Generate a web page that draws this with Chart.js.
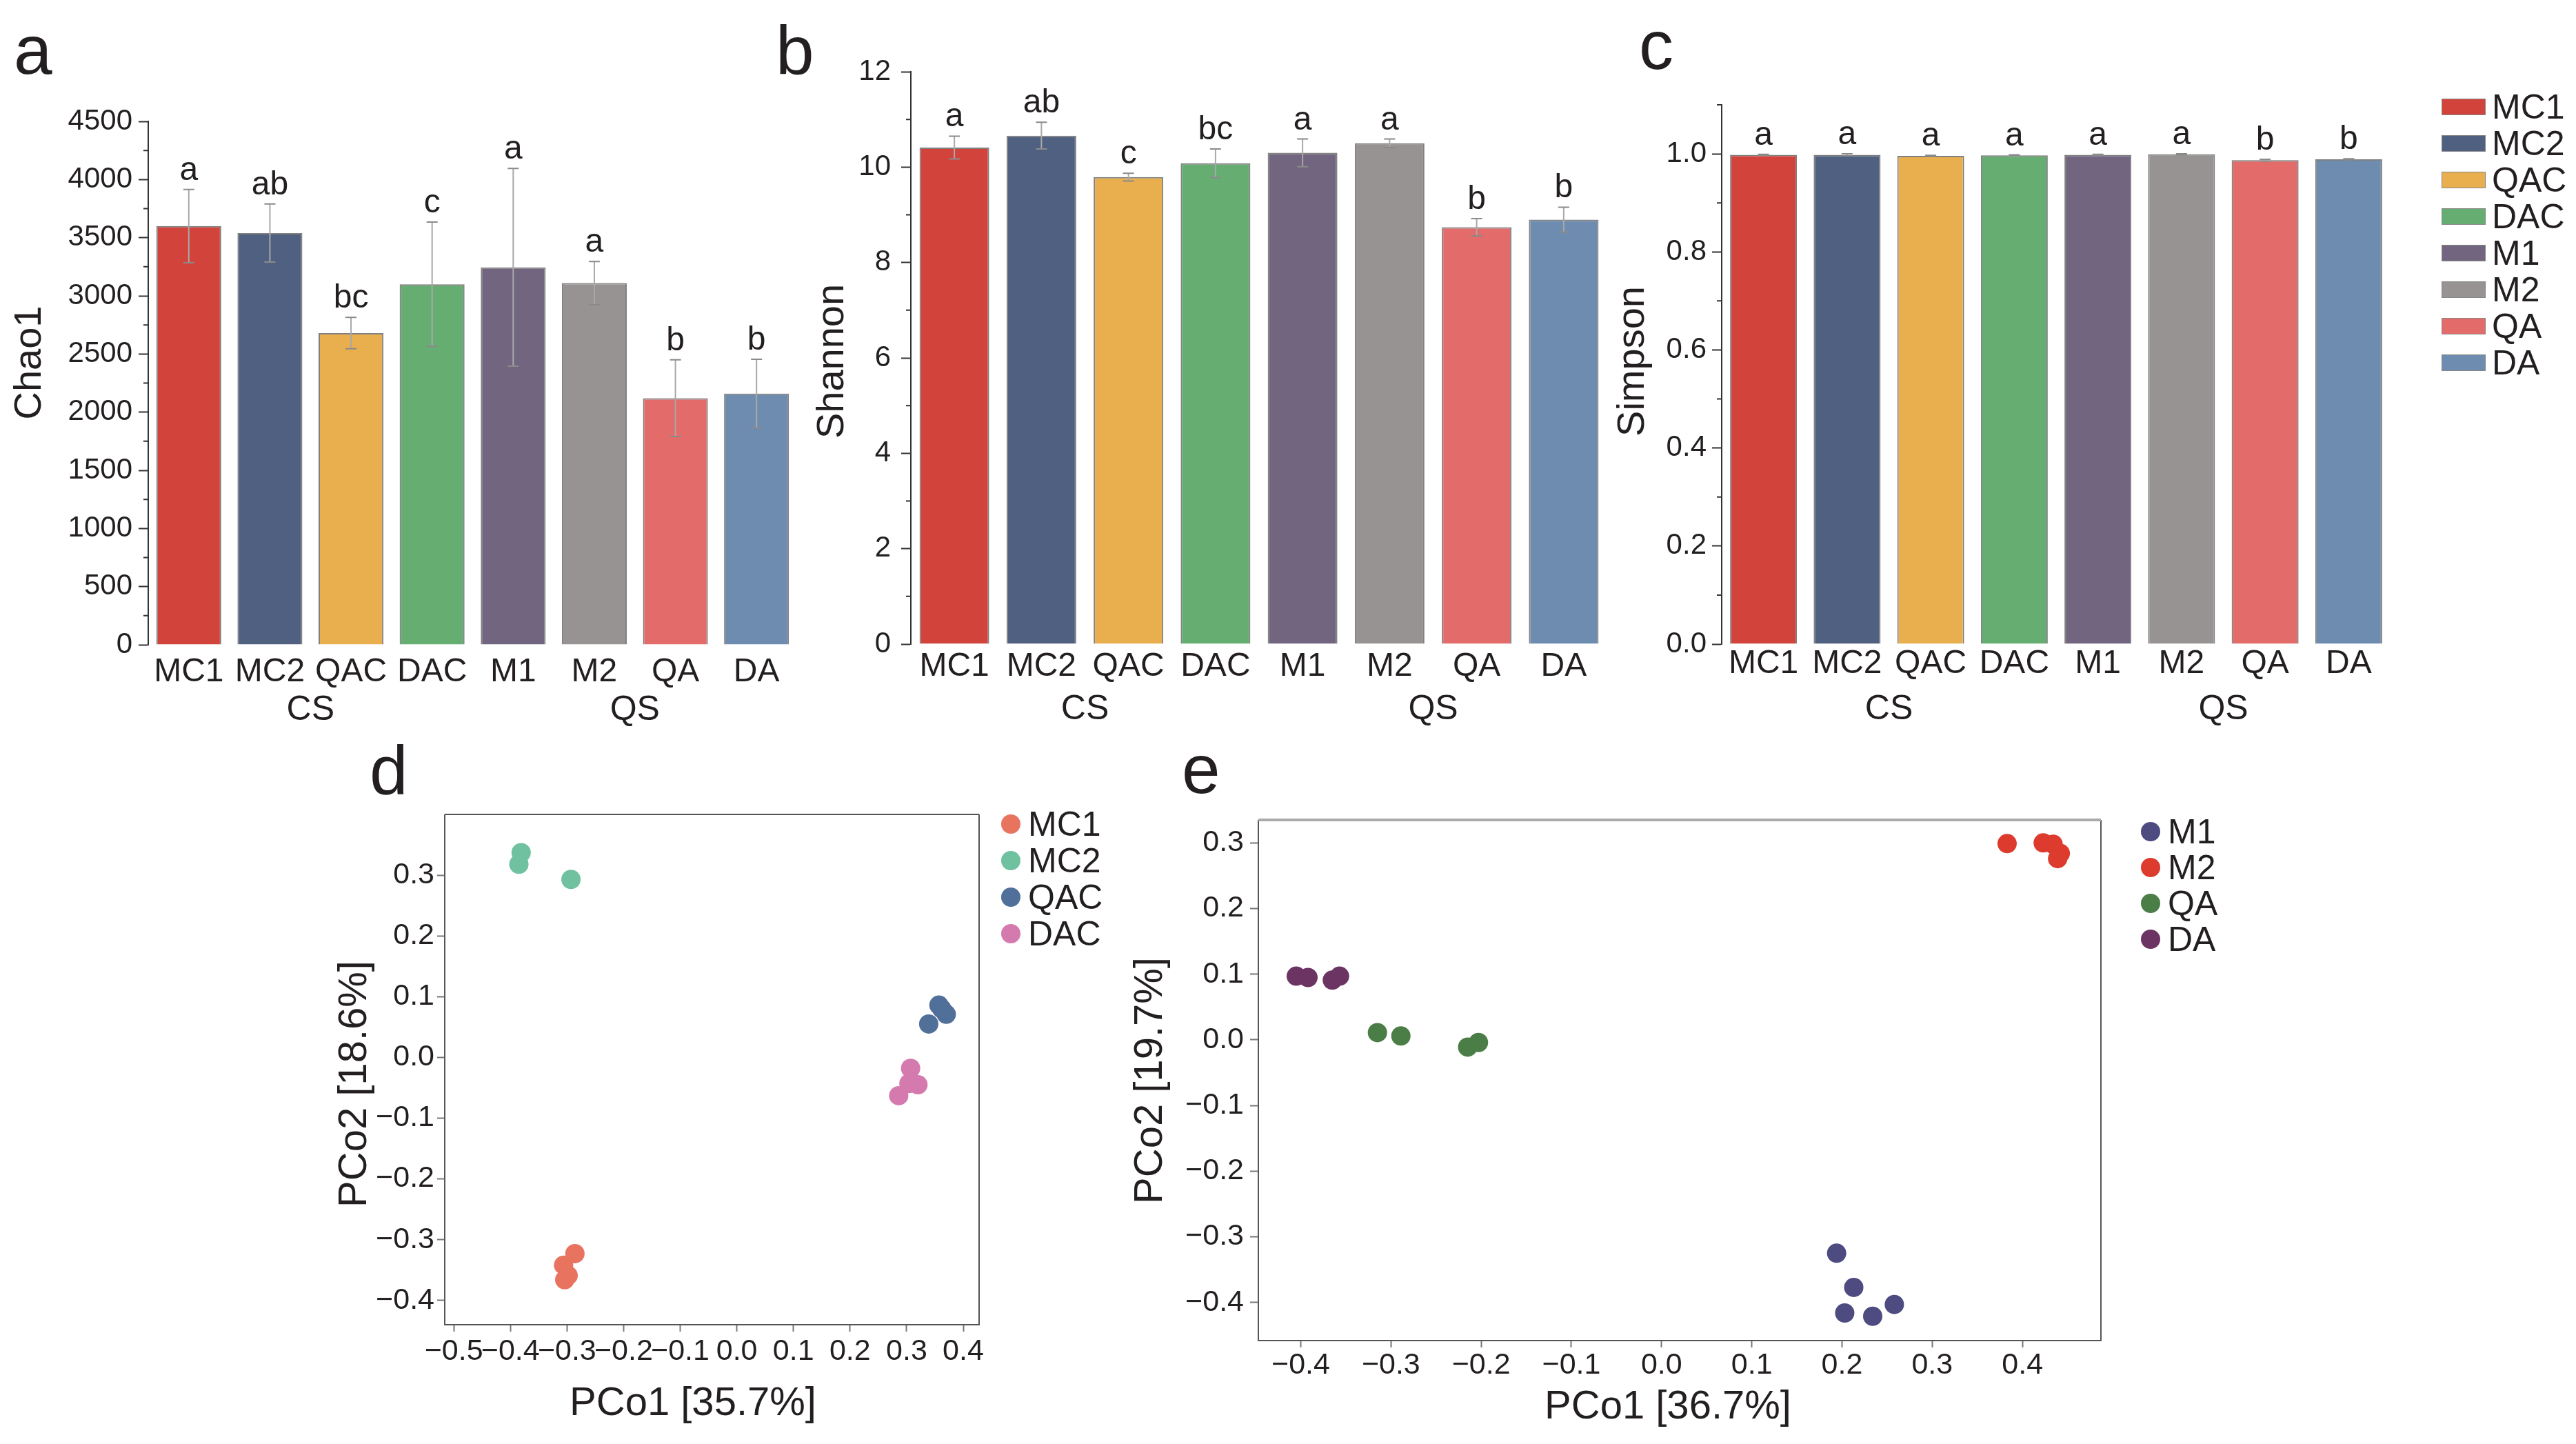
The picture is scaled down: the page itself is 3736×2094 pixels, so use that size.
<!DOCTYPE html>
<html>
<head>
<meta charset="utf-8">
<script src="https://cdn.jsdelivr.net/npm/chart.js@4.4.0/dist/chart.umd.min.js"></script>
<style>
html, body { margin: 0; padding: 0; background: #fff; }
#page { position: relative; width: 3736px; height: 2094px; overflow: hidden; background: #fff;
        font-family: "Liberation Sans", Arial, sans-serif; color: #231f20; }
canvas { position: absolute; }
.tag { position: absolute; font-size: 100px; line-height: 100px; }
.leg { position: absolute; display: flex; align-items: center; height: 50px; font-size: 50px; line-height: 50px; white-space: nowrap; }
</style>
</head>
<body>
<div id="page">
  <canvas id="chartA"></canvas>
  <canvas id="chartB"></canvas>
  <canvas id="chartC"></canvas>
  <canvas id="chartD"></canvas>
  <canvas id="chartE"></canvas>
  <div class="tag" style="left:20px;top:22px">a</div>
  <div class="tag" style="left:1125px;top:23px">b</div>
  <div class="tag" style="left:2377px;top:15px">c</div>
  <div class="tag" style="left:536px;top:1067px">d</div>
  <div class="tag" style="left:1714px;top:1065px">e</div>
</div>
<script>
const FONT = '"Liberation Sans", Arial, sans-serif';
const INK = '#231f20';

// ---- alpha diversity (a, b, c) ----
const groups = ['MC1', 'MC2', 'QAC', 'DAC', 'M1', 'M2', 'QA', 'DA'];
const barColors = ['#d2433b', '#4f6080', '#e9ae4e', '#66ad72', '#72657f', '#979392', '#e36b6a', '#6e8cb0'];
const sites = ['CS', 'QS'];
const siteMembers = [['MC1', 'MC2', 'QAC', 'DAC'], ['M1', 'M2', 'QA', 'DA']];

const chao1 = [3600, 3540, 2680, 3100, 3245, 3110, 2120, 2160];
const chao1Err = [315, 250, 135, 535, 850, 185, 330, 295];
const chao1Sig = ['a', 'ab', 'bc', 'c', 'a', 'a', 'b', 'b'];
const chao1Ticks = [0, 500, 1000, 1500, 2000, 2500, 3000, 3500, 4000, 4500];
const chao1Minor = [250, 750, 1250, 1750, 2250, 2750, 3250, 3750, 4250];

const shannon = [10.41, 10.66, 9.79, 10.08, 10.30, 10.50, 8.74, 8.90];
const shannonErr = [0.24, 0.28, 0.08, 0.30, 0.29, 0.09, 0.18, 0.26];
const shannonSig = ['a', 'ab', 'c', 'bc', 'a', 'a', 'b', 'b'];
const shannonTicks = [0, 2, 4, 6, 8, 10, 12];
const shannonMinor = [1, 3, 5, 7, 9, 11];

const simpson = [0.998, 0.998, 0.996, 0.997, 0.998, 0.999, 0.987, 0.989];
const simpsonErr = [0.001, 0.002, 0.001, 0.001, 0.001, 0.001, 0.002, 0.001];
const simpsonSig = ['a', 'a', 'a', 'a', 'a', 'a', 'b', 'b'];
const simpsonTicks = [0, 0.2, 0.4, 0.6, 0.8, 1.0];
const simpsonMinor = [0.1, 0.3, 0.5, 0.7, 0.9, 1.1];

// ---- PCoA (d) ----
const dGroups = ['MC1', 'MC2', 'QAC', 'DAC'];
const dColors = ['#e8735f', '#6fc1a0', '#50709a', '#d57aae'];
const dMC1 = [[-0.286, -0.323], [-0.306, -0.342], [-0.298, -0.359], [-0.304, -0.366]];
const dMC2 = [[-0.381, 0.337], [-0.385, 0.318], [-0.293, 0.293]];
const dQAC = [[0.357, 0.086], [0.370, 0.071], [0.362, 0.080], [0.339, 0.055]];
const dDAC = [[0.307, -0.018], [0.320, -0.045], [0.304, -0.043], [0.286, -0.063]];
const dTicksX = [-0.5, -0.4, -0.3, -0.2, -0.1, 0.0, 0.1, 0.2, 0.3, 0.4];
const dTicksY = [-0.4, -0.3, -0.2, -0.1, 0.0, 0.1, 0.2, 0.3];

// ---- PCoA (e) ----
const eGroups = ['M1', 'M2', 'QA', 'DA'];
const eColors = ['#4d4b80', '#dc3b2e', '#4b7d46', '#6b3463'];
const eM1 = [[0.194, -0.325], [0.213, -0.377], [0.203, -0.416], [0.234, -0.421], [0.258, -0.403]];
const eM2 = [[0.383, 0.299], [0.423, 0.300], [0.434, 0.298], [0.442, 0.284], [0.439, 0.276]];
const eQA = [[-0.315, 0.011], [-0.289, 0.006], [-0.215, -0.011], [-0.203, -0.004]];
const eDA = [[-0.405, 0.097], [-0.392, 0.095], [-0.365, 0.091], [-0.357, 0.097]];
const eTicksX = [-0.4, -0.3, -0.2, -0.1, 0.0, 0.1, 0.2, 0.3, 0.4];
const eTicksY = [-0.4, -0.3, -0.2, -0.1, 0.0, 0.1, 0.2, 0.3];

Chart.defaults.font.family = FONT;
Chart.defaults.color = INK;

function place(id, box) {
  const c = document.getElementById(id);
  c.width = box.w; c.height = box.h;
  c.style.left = box.x + 'px'; c.style.top = box.y + 'px';
  c.style.width = box.w + 'px'; c.style.height = box.h + 'px';
  return c;
}

// layout padding so that the plot area lands where it should on the page
function pad(box, area, yW, xH) {
  return {
    left: area.l - yW - box.x,
    top: area.t - box.y,
    right: box.x + box.w - area.r,
    bottom: box.y + box.h - area.b - xH
  };
}

const dec1 = v => (v < 0 ? '\u2212' : '') + Math.abs(v).toFixed(1);

// axis titles, given as page positions of their centres
function titlePlugin(box, items) {
  return {
    id: 'axisTitles',
    afterDraw(chart) {
      const ctx = chart.ctx;
      ctx.save();
      ctx.fillStyle = INK;
      ctx.textAlign = 'center';
      ctx.textBaseline = 'middle';
      items.forEach(t => {
        ctx.save();
        ctx.font = t.size + 'px ' + FONT;
        ctx.translate(t.at[0] - box.x, t.at[1] - box.y);
        if (t.vertical) ctx.rotate(-Math.PI / 2);
        ctx.fillText(t.text, 0, 0);
        ctx.restore();
      });
      ctx.restore();
    }
  };
}

function barPlugins(cfg) {
  return [{
    id: 'errBars',
    afterDatasetsDraw(chart) {
      const { ctx, scales: { x, y } } = chart;
      ctx.save();
      ctx.lineWidth = 2;
      ctx.fillStyle = INK;
      ctx.font = '48px ' + FONT;
      ctx.textAlign = 'center';
      ctx.textBaseline = 'alphabetic';
      cfg.values.forEach((v, i) => {
        const px = x.getPixelForValue(i);
        const top = y.getPixelForValue(v + cfg.err[i]);
        const bot = y.getPixelForValue(v - cfg.err[i]);
        ctx.strokeStyle = '#a8a8a8';
        ctx.beginPath();
        ctx.moveTo(px, top); ctx.lineTo(px, bot);
        ctx.stroke();
        ctx.strokeStyle = '#8a8a8a';
        ctx.beginPath();
        ctx.moveTo(px - 8, top); ctx.lineTo(px + 8, top);
        ctx.moveTo(px - 8, bot); ctx.lineTo(px + 8, bot);
        ctx.stroke();
        ctx.fillText(cfg.sig[i], px, top - 14);
      });
      ctx.restore();
    },
    afterDraw(chart) {
      const { ctx, chartArea, scales: { x, y } } = chart;
      ctx.save();
      ctx.strokeStyle = '#333';
      ctx.lineWidth = 2;
      ctx.beginPath();
      cfg.minor.forEach(v => {
        const py = y.getPixelForValue(v);
        ctx.moveTo(chartArea.left - 7, py); ctx.lineTo(chartArea.left, py);
      });
      ctx.stroke();
      ctx.fillStyle = INK;
      ctx.font = '50px ' + FONT;
      ctx.textAlign = 'center';
      ctx.textBaseline = 'middle';
      sites.forEach((s, k) => {
        const idx = siteMembers[k].map(g => groups.indexOf(g));
        const mid = (Math.min(...idx) + Math.max(...idx)) / 2;
        ctx.fillText(s, x.getPixelForValue(mid), chartArea.bottom + 95);
      });
      ctx.restore();
    }
  }];
}

function barChart(id, box, area, yW, xH, cfg) {
  return new Chart(place(id, box), {
    type: 'bar',
    data: {
      labels: groups,
      datasets: [{
        data: cfg.values,
        backgroundColor: barColors,
        borderColor: '#808080',
        borderWidth: 2,
        categoryPercentage: 0.8,
        barPercentage: 1
      }]
    },
    options: {
      responsive: false, animation: false, devicePixelRatio: 1,
      layout: { padding: pad(box, area, yW, xH) },
      plugins: { legend: { display: false }, tooltip: { enabled: false } },
      scales: {
        x: {
          grid: { display: false, drawTicks: false },
          border: { display: false },
          ticks: { color: INK, font: { size: 48 }, padding: cfg.xPad, maxRotation: 0, autoSkip: false },
          afterFit: s => { s.height = xH; }
        },
        y: {
          min: 0, max: cfg.max,
          grid: { drawOnChartArea: false, tickLength: 14, tickColor: '#333', tickWidth: 2 },
          border: { color: '#333', width: 2 },
          ticks: { color: INK, font: { size: 42 }, padding: cfg.yPad, callback: cfg.fmt },
          afterBuildTicks: s => { s.ticks = cfg.ticks.map(v => ({ value: v })); },
          afterFit: s => { s.width = yW; }
        }
      }
    },
    plugins: barPlugins(cfg).concat([titlePlugin(box, [{ text: cfg.title, size: 56, at: cfg.titleAt, vertical: true }])])
  });
}

function scatterChart(id, box, area, yW, xH, cfg) {
  return new Chart(place(id, box), {
    type: 'scatter',
    data: {
      datasets: cfg.sets.map((pts, i) => ({
        label: cfg.names[i], data: pts,
        backgroundColor: cfg.colors[i], borderColor: cfg.colors[i],
        borderWidth: 0, pointRadius: 14
      }))
    },
    options: {
      responsive: false, animation: false, devicePixelRatio: 1,
      layout: { padding: pad(box, area, yW, xH) },
      plugins: { legend: { display: false }, tooltip: { enabled: false } },
      scales: {
        x: {
          type: 'linear', min: cfg.xMin, max: cfg.xMax,
          grid: { drawOnChartArea: false, tickLength: cfg.xTl, tickColor: '#777', tickWidth: 2 },
          border: { display: false },
          ticks: { color: INK, font: { size: 43 }, padding: cfg.xPad, callback: dec1, maxRotation: 0, autoSkip: false },
          afterBuildTicks: s => { s.ticks = cfg.ticksX.map(v => ({ value: v })); },
          afterFit: s => { s.height = xH; }
        },
        y: {
          type: 'linear', min: cfg.yMin, max: cfg.yMax,
          grid: { drawOnChartArea: false, tickLength: cfg.yTl, tickColor: '#777', tickWidth: 2 },
          border: { display: false },
          ticks: { color: INK, font: { size: 43 }, padding: cfg.yPad, callback: dec1 },
          afterBuildTicks: s => { s.ticks = cfg.ticksY.map(v => ({ value: v })); },
          afterFit: s => { s.width = yW; }
        }
      }
    },
    plugins: [{
      id: 'frame',
      beforeDatasetsDraw(chart) {
        const { ctx, chartArea: a } = chart;
        ctx.save();
        ctx.lineWidth = 2;
        ctx.strokeStyle = '#555';
        ctx.beginPath();
        ctx.moveTo(a.left, a.top); ctx.lineTo(a.left, a.bottom);
        ctx.lineTo(a.right, a.bottom); ctx.lineTo(a.right, a.top);
        ctx.stroke();
        ctx.strokeStyle = cfg.topColor;
        ctx.lineWidth = cfg.topWidth;
        ctx.beginPath();
        ctx.moveTo(a.left, a.top); ctx.lineTo(a.right, a.top);
        ctx.stroke();
        ctx.restore();
      }
    }, titlePlugin(box, [
      { text: cfg.xTitle, size: 58, at: cfg.xTitleAt, vertical: false },
      { text: cfg.yTitle, size: 58, at: cfg.yTitleAt, vertical: true }
    ])]
  });
}

function legend(names, colors, left, firstY, step, round) {
  const page = document.getElementById('page');
  names.forEach((name, i) => {
    const row = document.createElement('div');
    row.className = 'leg';
    row.style.left = left + 'px';
    row.style.top = (firstY + i * step - 25) + 'px';
    const mark = document.createElement('span');
    mark.style.display = 'inline-block';
    mark.style.background = colors[i];
    if (round) {
      mark.style.width = '28px'; mark.style.height = '28px';
      mark.style.borderRadius = '50%'; mark.style.marginRight = '11px';
    } else {
      mark.style.width = '62px'; mark.style.height = '22px';
      mark.style.border = '1px solid #888'; mark.style.marginRight = '9px';
    }
    row.appendChild(mark);
    row.appendChild(document.createTextNode(name));
    page.appendChild(row);
  });
}

barChart('chartA', { x: 0, y: 110, w: 1180, h: 960 }, { l: 215, r: 1156, t: 176, b: 935 }, 211, 100, {
  values: chao1, err: chao1Err, sig: chao1Sig, ticks: chao1Ticks, minor: chao1Minor,
  max: 4500, title: 'Chao1', titleAt: [44, 526], fmt: v => String(v), xPad: 11, yPad: 9
});

barChart('chartB', { x: 1160, y: 40, w: 1190, h: 1030 }, { l: 1321, r: 2331, t: 104, b: 934 }, 153, 100, {
  values: shannon, err: shannonErr, sig: shannonSig, ticks: shannonTicks, minor: shannonMinor,
  max: 12, title: 'Shannon', titleAt: [1208, 524], fmt: v => String(v), xPad: 4, yPad: 15
});

barChart('chartC', { x: 2320, y: 40, w: 1180, h: 1030 }, { l: 2497, r: 3467, t: 152, b: 934 }, 168, 100, {
  values: simpson, err: simpsonErr, sig: simpsonSig, ticks: simpsonTicks, minor: simpsonMinor,
  max: 1.1, title: 'Simpson', titleAt: [2369, 524], fmt: v => v.toFixed(1), xPad: 0, yPad: 8
});

scatterChart('chartD', { x: 440, y: 1140, w: 1110, h: 954 }, { l: 645, r: 1420, t: 1181, b: 1921 }, 169, 156, {
  sets: [dMC1, dMC2, dQAC, dDAC], names: dGroups, colors: dColors,
  xMin: -0.516, xMax: 0.428, yMin: -0.44, yMax: 0.40,
  ticksX: dTicksX, ticksY: dTicksY,
  xTitle: 'PCo1 [35.7%]', yTitle: 'PCo2 [18.6%]', xTitleAt: [1005, 2036], yTitleAt: [515, 1572],
  xTl: 10, xPad: 3, yTl: 11, yPad: 4, topColor: '#555', topWidth: 2
});

scatterChart('chartE', { x: 1600, y: 1140, w: 1500, h: 954 }, { l: 1825, r: 3047, t: 1189, b: 1944 }, 195, 135, {
  sets: [eM1, eM2, eQA, eDA], names: eGroups, colors: eColors,
  xMin: -0.447, xMax: 0.487, yMin: -0.458, yMax: 0.335,
  ticksX: eTicksX, ticksY: eTicksY,
  xTitle: 'PCo1 [36.7%]', yTitle: 'PCo2 [19.7%]', xTitleAt: [2419, 2041], yTitleAt: [1669, 1567],
  xTl: 10, xPad: 0, yTl: 12, yPad: 9, topColor: '#aaa', topWidth: 4
});

legend(groups, barColors, 3541, 155, 53, false);
legend(dGroups, dColors, 1452, 1195, 53, true);
legend(eGroups, eColors, 3105, 1206, 52, true);
</script>
</body>
</html>
